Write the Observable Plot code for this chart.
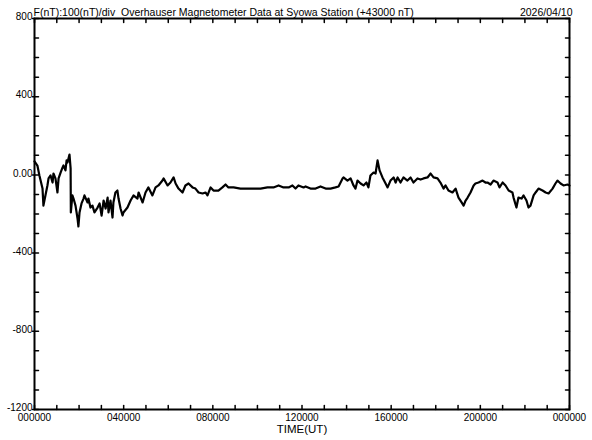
<!DOCTYPE html>
<html><head><meta charset="utf-8">
<script src="https://cdn.jsdelivr.net/npm/d3@7"></script>
<script src="https://cdn.jsdelivr.net/npm/@observablehq/plot@0.6"></script>
<style>
body{margin:0;background:#fff}
svg{display:block}
svg text{white-space:pre}
</style>
</head><body><div id="chart"></div>
<script>
// time of day in hours (UT)
const hours = [0.00,0.13,0.22,0.36,0.40,0.49,0.58,0.63,0.72,0.81,0.85,0.94,1.03,1.08,1.17,1.26,1.30,1.39,1.44,1.48,1.57,1.62,1.63,1.70,1.75,1.84,1.93,1.97,2.02,2.11,2.20,2.24,2.38,2.42,2.51,2.60,2.69,2.83,2.92,3.01,3.10,3.19,3.28,3.32,3.41,3.50,3.54,3.63,3.72,3.77,3.86,3.95,3.99,4.17,4.31,4.44,4.62,4.67,4.85,4.98,5.11,5.29,5.43,5.56,5.74,5.79,5.97,6.10,6.24,6.33,6.46,6.64,6.77,6.91,7.09,7.22,7.36,7.54,7.67,7.76,7.90,8.03,8.25,8.43,8.57,8.70,8.93,9.24,9.56,9.83,10.14,10.45,10.72,10.95,11.17,11.40,11.57,11.71,11.84,12.07,12.16,12.38,12.61,12.83,13.06,13.28,13.50,13.64,13.82,13.86,14.04,14.18,14.31,14.40,14.49,14.63,14.76,14.89,14.98,15.07,15.21,15.30,15.39,15.48,15.61,15.75,15.84,15.97,16.11,16.20,16.29,16.42,16.55,16.73,16.87,17.00,17.18,17.32,17.45,17.63,17.77,17.90,18.08,18.21,18.35,18.44,18.57,18.75,18.89,19.02,19.16,19.25,19.34,19.43,19.56,19.70,19.78,19.92,20.10,20.23,20.32,20.46,20.59,20.77,20.86,21.00,21.13,21.27,21.44,21.49,21.62,21.71,21.85,21.94,22.07,22.16,22.25,22.39,22.48,22.61,22.79,22.93,23.06,23.24,23.37,23.46,23.60,23.73,23.91,24.00];
// F minus 43000 nT
const values = [69,48,-3,-70,-157,-105,-54,-18,-3,-39,7,-18,-90,-18,12,38,48,23,74,63,104,33,-192,-105,-121,-157,-223,-264,-192,-146,-121,-105,-141,-121,-167,-157,-192,-167,-146,-208,-131,-172,-116,-192,-131,-218,-141,-90,-80,-121,-172,-208,-192,-167,-131,-105,-121,-90,-141,-90,-64,-105,-64,-54,-29,-18,-54,-39,-13,-44,-70,-90,-54,-44,-64,-70,-90,-95,-90,-105,-64,-80,-80,-64,-49,-64,-64,-70,-70,-70,-70,-64,-64,-54,-64,-64,-54,-70,-54,-64,-59,-70,-70,-59,-70,-70,-64,-59,-18,-13,-29,-18,-54,-70,-29,-44,-54,-39,-64,-3,12,7,74,23,-13,-44,-64,-29,-13,-39,-13,-39,-13,-29,-13,-39,-18,-24,-18,-13,7,-13,-18,-39,-70,-54,-80,-90,-70,-116,-141,-157,-131,-116,-90,-54,-44,-39,-29,-39,-39,-49,-29,-39,-64,-39,-54,-80,-90,-116,-167,-116,-121,-105,-131,-167,-157,-105,-90,-70,-80,-90,-95,-70,-44,-29,-44,-54,-49,-54];

const xLabelHours = [0,4,8,12,16,20,24];
const xLabels = ["000000","040000","080000","120000","160000","200000","000000"];
const xTickHours = [0,1,2,3,4,5,6,7,8,9,10,11,12,13,14,15,16,17,18,19,20,21,22,23,24];
const yLabelValues = [-1200,-800,-400,0,400,800];
const yLabels = ["-1200","-800","-400","0.00","400","800"];
const yTickValues = [-1200,-1100,-1000,-900,-800,-700,-600,-500,-400,-300,-200,-100,0,100,200,300,400,500,600,700,800];
const titleText = "F(nT):100(nT)/div  Overhauser Magnetometer Data at Syowa Station (+43000 nT)";
const dateText = "2026/04/10";
const xTitle = "TIME(UT)";

const data = hours.map((h, i) => ({h, v: values[i]}));
const line = {draw(ctx, l) { ctx.moveTo(0, 0); ctx.lineTo(0, -l); }};
const tickStyle = {stroke: "black", strokeWidth: 1.5, anchor: "start", shape: line};

const chart = Plot.plot({
  width: 592,
  height: 440,
  marginLeft: 34,
  marginRight: 23,
  marginTop: 18,
  marginBottom: 31,
  style: {fontFamily: "'Liberation Sans', Arial, sans-serif", fontSize: "10.5px", color: "black", background: "white"},
  x: {domain: [0, 24]},
  y: {domain: [-1200, 800]},
  marks: [
    Plot.line(data, {x: "h", y: "v", stroke: "black", strokeWidth: 2.2, strokeLinejoin: "round"}),
    Plot.frame({stroke: "black", strokeWidth: 2}),
    Plot.vector(xTickHours, {x: d => d, frameAnchor: "bottom", length: 4, rotate: 0, ...tickStyle}),
    Plot.vector(xTickHours, {x: d => d, frameAnchor: "top", length: 4, rotate: 180, ...tickStyle}),
    Plot.vector(yTickValues, {y: d => d, frameAnchor: "left", length: 4, rotate: 90, ...tickStyle}),
    Plot.vector(yTickValues, {y: d => d, frameAnchor: "right", length: 4, rotate: -90, ...tickStyle}),
    Plot.vector(yLabelValues, {y: d => d, frameAnchor: "left", length: 2, rotate: -90, ...tickStyle}),
    Plot.axisX(xLabelHours, {anchor: "bottom", tickSize: 0, tickPadding: 4, label: null, fontSize: 10, tickFormat: d => xLabels[xLabelHours.indexOf(d)]}),
    Plot.axisY(yLabelValues, {anchor: "left", tickSize: 0, tickPadding: 2, label: null, fontSize: 10, dy: -1.5, tickFormat: d => yLabels[yLabelValues.indexOf(d)]}),
    Plot.text([titleText], {frameAnchor: "top-left", dy: -10, dx: -1, textAnchor: "start", fontSize: 10.5}),
    Plot.text([dateText], {frameAnchor: "top-right", dy: -10, dx: 3, textAnchor: "end", fontSize: 10.5}),
    Plot.text([xTitle], {frameAnchor: "bottom", dy: 23, fontSize: 11.5})
  ]
});
document.getElementById("chart").append(chart);
</script>
</body></html>
